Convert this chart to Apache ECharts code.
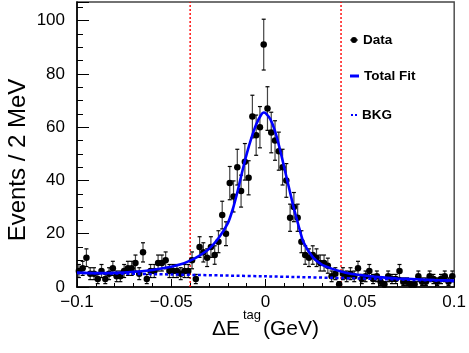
<!DOCTYPE html>
<html><head><meta charset="utf-8">
<script src="https://cdn.jsdelivr.net/npm/echarts@6/dist/echarts.min.js"></script>
<style>html,body{margin:0;padding:0;background:#fff}#c{width:469px;height:353px}</style>
</head><body><div id="c"></div>
<script>
// ---- data ----
const histMin = -0.1;
const binWidth = 0.002;           // 2 MeV bins
const counts = [
  6, 7, 11, 5, 5, 3, 6, 3, 5, 7, 4, 4, 6, 7, 7, 9, 5, 13, 3, 6, 6, 9, 9, 10, 6, 6, 6, 5, 6, 6,
  10, 3, 15, 13, 11, 15, 12, 17, 27, 20, 39, 34, 45, 36, 47, 41, 64, 57, 60, 91, 67, 58, 55, 51, 45, 40, 26, 30, 26, 17, 12, 11,
  12, 11, 9, 9, 8, 4, 5, 1, 5, 4, 5, 4, 7, 3, 4, 6, 3, 4, 2, 1, 4, 3, 3, 6, 2, 2, 1, 1, 4, 2, 2, 4, 3, 2, 3, 4, 2, 4
];
const fitX = [-0.1,-0.09,-0.08,-0.07,-0.06,-0.05,-0.045,-0.04,-0.035,-0.03,-0.025,-0.02,-0.0175,-0.015,-0.0125,-0.01,-0.0075,-0.005,-0.0025,-0.001,0,0.0025,0.005,0.0075,0.01,0.0125,0.015,0.0175,0.02,0.025,0.03,0.035,0.04,0.045,0.05,0.06,0.07,0.08,0.09,0.1];
const fitY = [5.4,5.2,5.3,5.7,6.4,7.6,8.5,9.9,11.8,14.3,18.3,24,29,35.5,43,50,56,61,64.5,65.5,65.3,63,58.5,52,44.5,37,29.5,23,17,11.2,8.3,6.9,5.8,5.0,4.5,3.7,3.2,2.9,2.6,2.4];
const bkgX = [-0.1,-0.05,0,0.05,0.1];
const bkgY = [5.3,4.7,4.0,3.2,2.2];
const cutLines = [-0.04, 0.04];
const xTicks = [-0.1,-0.05,0,0.05,0.1];
const yTicks = [0,20,40,60,80,100];

// ---- build ----
const centers = counts.map((_, i) => +(histMin + (i + 0.5) * binWidth).toFixed(4));
const pts = counts.map((n, i) => [centers[i], n]);
const errs = counts.map((n, i) => [centers[i], n - Math.sqrt(n), n + Math.sqrt(n)]);
const FONT = '"Liberation Sans", Arial, Helvetica, sans-serif';
const YMAX = 107;

const chart = echarts.init(document.getElementById('c'), null, {renderer: 'canvas'});
const fmtX = v => {
  const r = parseFloat(v.toFixed(3));
  if (r === 0) return '0';
  return (r < 0 ? '\u2212' : '') + Math.abs(r);
};
const legendBase = {
  orient: 'vertical', padding: 0, itemGap: 0, selectedMode: false,
  textStyle: {fontFamily: FONT, fontWeight: 'bold', fontSize: 13.5, color: '#000'}
};
chart.setOption({
  animation: false,
  grid: {left: 77, right: 11, top: 2, bottom: 66, show: true, borderColor: '#444', borderWidth: 1.4},
  xAxis: {
    type: 'value', min: xTicks[0], max: xTicks[xTicks.length - 1], interval: 0.05,
    axisLine: {show: true, onZero: false, lineStyle: {color: '#000', width: 1.6}},
    axisTick: {show: true, inside: true, length: 8, lineStyle: {color: '#000', width: 1}},
    minorTick: {show: true, splitNumber: 5, length: 4, lineStyle: {color: '#000', width: 1}},
    splitLine: {show: false},
    axisLabel: {fontFamily: FONT, fontSize: 17, color: '#000', margin: 7, formatter: fmtX,
      showMinLabel: true, showMaxLabel: true}
  },
  yAxis: {
    type: 'value', min: yTicks[0], max: YMAX, interval: 20,
    axisLine: {show: true, onZero: false, lineStyle: {color: '#000', width: 1.6}},
    axisTick: {show: true, inside: true, length: 12, lineStyle: {color: '#000', width: 1}},
    minorTick: {show: true, splitNumber: 4, length: 6, lineStyle: {color: '#000', width: 1}},
    splitLine: {show: false},
    axisLabel: {fontFamily: FONT, fontSize: 17, color: '#000', margin: 12, showMaxLabel: false,
      formatter: v => (yTicks.indexOf(v) >= 0 ? String(v) : '')}
  },
  legend: [
    Object.assign({}, legendBase, {left: 350, top: 33, itemWidth: 8, itemHeight: 6,
      data: [{name: 'Data', icon: 'path://M0,3.5 L8,3.5 L8,4.5 L0,4.5 Z M4,1 A3,3 0 1,1 3.99,1 Z'}]}),
    Object.assign({}, legendBase, {left: 350, top: 69, itemWidth: 9, itemHeight: 3,
      data: [{name: 'Total Fit', icon: 'rect'}]}),
    Object.assign({}, legendBase, {left: 351, top: 108, itemWidth: 6, itemHeight: 2,
      data: [{name: 'BKG', icon: 'path://M0,0 L2,0 L2,2 L0,2 Z M4,0 L6,0 L6,2 L4,2 Z'}]})
  ],
  graphic: [
    {type: 'text', x: 18, y: 160, rotation: Math.PI / 2,
      style: {text: 'Events / 2 MeV', font: '24px ' + FONT, fill: '#000', align: 'center', verticalAlign: 'middle'}},
    {type: 'text', x: 212, y: 329,
      style: {text: '\u0394E', font: '21px ' + FONT, fill: '#000', align: 'left', verticalAlign: 'middle'}},
    {type: 'text', x: 243, y: 315,
      style: {text: 'tag', font: '13px ' + FONT, fill: '#000', align: 'left', verticalAlign: 'middle'}},
    {type: 'text', x: 263, y: 329,
      style: {text: '(GeV)', font: '21px ' + FONT, fill: '#000', align: 'left', verticalAlign: 'middle'}}
  ],
  series: [
    {type: 'line', data: [[cutLines[0], 0], [cutLines[0], YMAX]], symbol: 'none', silent: true, z: 1,
      lineStyle: {color: '#ff0000', width: 1.4, type: [2, 2]}},
    {type: 'line', data: [[cutLines[1], 0], [cutLines[1], YMAX]], symbol: 'none', silent: true, z: 1,
      lineStyle: {color: '#ff0000', width: 1.4, type: [2, 2]}},
    {type: 'custom', data: errs, z: 2, silent: true,
      renderItem: (params, api) => {
        const x = api.value(0);
        const lo = api.coord([x, Math.max(0, api.value(1))]);
        const hi = api.coord([x, api.value(2)]);
        const c = 2;
        return {type: 'group', children: [
          {type: 'line', shape: {x1: lo[0], y1: lo[1], x2: hi[0], y2: hi[1]}, style: {stroke: '#444', lineWidth: 1.2}},
          {type: 'line', shape: {x1: lo[0] - c, y1: lo[1], x2: lo[0] + c, y2: lo[1]}, style: {stroke: '#000', lineWidth: 1.2}},
          {type: 'line', shape: {x1: hi[0] - c, y1: hi[1], x2: hi[0] + c, y2: hi[1]}, style: {stroke: '#000', lineWidth: 1.2}}
        ]};
      }},
    {name: 'Data', type: 'scatter', data: pts, symbol: 'circle', symbolSize: 6.5, z: 3,
      itemStyle: {color: '#000', opacity: 1}},
    {name: 'BKG', type: 'line', data: bkgX.map((x, i) => [x, bkgY[i]]), symbol: 'none', smooth: 0.3, z: 4,
      itemStyle: {color: '#0000ff'}, lineStyle: {color: '#0000ff', width: 2.5, type: [3, 2.5]}},
    {name: 'Total Fit', type: 'line', data: fitX.map((x, i) => [x, fitY[i]]), symbol: 'none', smooth: 0.2, z: 5,
      itemStyle: {color: '#0000ff'}, lineStyle: {color: '#0000ff', width: 2.6}}
  ]
});
</script>
</body></html>
